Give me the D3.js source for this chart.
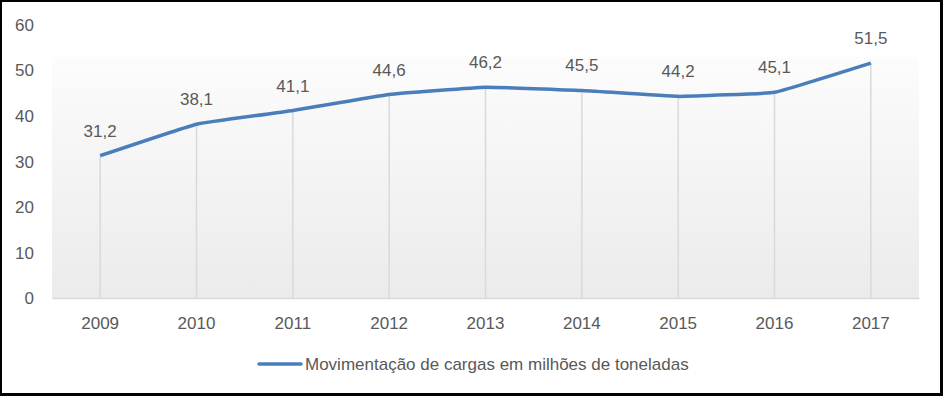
<!DOCTYPE html>
<html><head><meta charset="utf-8">
<script src="https://cdn.jsdelivr.net/npm/d3@7"></script>
<style>html,body{margin:0;padding:0;background:#fff;}svg{display:block;}</style>
</head><body>
<svg id="c" width="943" height="396"></svg>
<script>
const years = ["2009","2010","2011","2012","2013","2014","2015","2016","2017"];
const values = [31.2, 38.1, 41.1, 44.6, 46.2, 45.5, 44.2, 45.1, 51.5];
const valueLabels = ["31,2","38,1","41,1","44,6","46,2","45,5","44,2","45,1","51,5"];
const yTicks = [0, 10, 20, 30, 40, 50, 60];
const seriesName = "Movimentação de cargas em milhões de toneladas";

const W = 943, H = 396;
const svg = d3.select("#c");
const font = "'Liberation Sans', Arial, sans-serif";
const txt = "#595959";

// frame
svg.append("rect").attr("x",0).attr("y",0).attr("width",W).attr("height",H).attr("fill","#000");
svg.append("rect").attr("x",2).attr("y",2).attr("width",938).attr("height",391).attr("fill","#fff");

const L = 52, R = 919, T = 24.3, B = 298;
const x = d3.scaleBand().domain(years).range([L, R]);
const y = d3.scaleLinear().domain([0, 60]).range([B, T]);

// plot area gradient
const defs = svg.append("defs");
const g = defs.append("linearGradient").attr("id","pg").attr("x1",0).attr("y1",0).attr("x2",0).attr("y2",1);
g.append("stop").attr("offset","0%").attr("stop-color","#fcfcfc");
g.append("stop").attr("offset","100%").attr("stop-color","#ebebeb");
svg.append("rect").attr("x",L).attr("y",57).attr("width",R-L).attr("height",B-57).attr("fill","url(#pg)");

const cx = d => x(d) + x.bandwidth()/2;

// drop lines
svg.append("g").selectAll("line").data(years).join("line")
  .attr("x1", d => cx(d)).attr("x2", d => cx(d))
  .attr("y1", (d,i) => y(values[i])).attr("y2", B)
  .attr("stroke","#d9d9d9").attr("stroke-width",1.5);

// x axis
const xa = svg.append("g").attr("transform",`translate(0,${B})`)
  .call(d3.axisBottom(x).tickSize(0).tickPadding(0));
xa.select(".domain").attr("stroke","#d9d9d9").attr("stroke-width",1.5);
xa.selectAll("text").attr("font-family",font).attr("font-size",17).attr("fill",txt)
  .attr("dy",null).attr("y",31);

// y axis
const ya = svg.append("g").attr("transform",`translate(${L},0)`)
  .call(d3.axisLeft(y).tickValues(yTicks).tickSize(0).tickPadding(18));
ya.select(".domain").remove();
ya.selectAll("text").attr("font-family",font).attr("font-size",17).attr("fill",txt).attr("dy","0.35em");

// line
const line = d3.line().x((d,i) => cx(years[i])).y(d => y(d)).curve(d3.curveCardinal.tension(0.75));
svg.append("path").datum(values).attr("d", line).attr("fill","none")
  .attr("stroke","#4a7ebb").attr("stroke-width",3.5).attr("stroke-linejoin","round");

// value labels
svg.append("g").selectAll("text").data(values).join("text")
  .attr("x",(d,i) => cx(years[i])).attr("y", d => y(d) - 19)
  .attr("text-anchor","middle").attr("font-family",font).attr("font-size",17).attr("fill",txt)
  .text((d,i) => valueLabels[i]);

// legend
svg.append("line").attr("x1",259).attr("x2",301).attr("y1",364).attr("y2",364)
  .attr("stroke","#4a7ebb").attr("stroke-width",3.5).attr("stroke-linecap","round");
svg.append("text").attr("x",305).attr("y",364).attr("dy","0.35em")
  .attr("font-family",font).attr("font-size",17).attr("fill",txt).text(seriesName);
</script>
</body></html>
